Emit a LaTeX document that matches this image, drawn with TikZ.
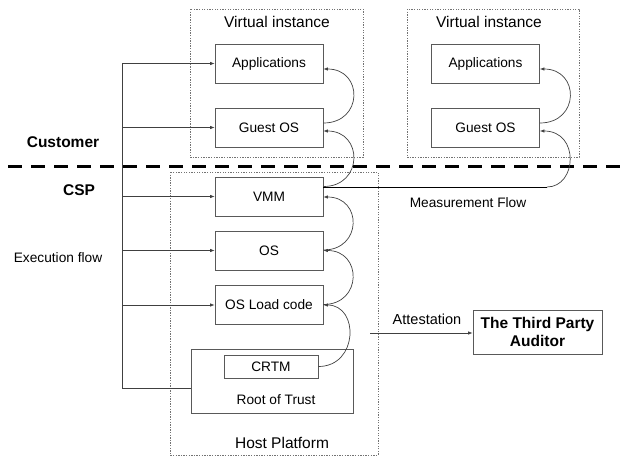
\documentclass[tikz,border=0pt]{standalone}
\usepackage{fontspec}
\setmainfont{Liberation Sans}
\usetikzlibrary{arrows.meta}
\tikzset{
  box/.style={draw=black!65, line width=0.8pt, minimum width=108pt, minimum height=39pt, inner sep=0pt, font=\fontsize{13.7}{16}\selectfont},
  container/.style={draw=black!55, line width=0.7pt, dash pattern=on 1.3pt off 1.3pt},
  arr/.style={draw=black!75, line width=0.7pt, -{Latex[length=4.5pt,width=3.5pt]}},
  plain/.style={draw=black!75, line width=0.7pt},
  lbl/.style={font=\fontsize{13.7}{16}\selectfont, inner sep=0pt},
  biglbl/.style={font=\fontsize{15.5}{18}\selectfont, inner sep=0pt},
  boldlbl/.style={font=\fontsize{15.5}{18}\selectfont\bfseries, inner sep=0pt},
}
\begin{document}
\begin{tikzpicture}[x=1pt,y=-1pt]
\useasboundingbox (0,0) rectangle (621,458);
% containers
\draw[container] (190,9) rectangle (363,157);
\draw[container] (407,9) rectangle (579,157);
\draw[container] (170,172) rectangle (378,455);
\node[biglbl] (vi1) at (277,22) {Virtual instance};
\node[biglbl] (vi2) at (489,22) {Virtual instance};
\node[biglbl] (hp) at (282,443) {Host Platform};
% boxes
\node[box] (a1) at (269,63.5) {Applications};
\node[box] (g1) at (269,127.5) {Guest OS};
\node[box] (a2) at (485.5,63.5) {Applications};
\node[box] (g2) at (485.5,127.5) {Guest OS};
\node[box] (vmm) at (269,196.5) {VMM};
\node[box] (os) at (269,250.5) {OS};
\node[box] (osl) at (269,305) {OS Load code};
\node[box, minimum width=162pt, minimum height=64pt] (rot) at (272,381) {};
\node[lbl] (rott) at (276,400) {Root of Trust};
\node[box, minimum width=94pt, minimum height=23pt] (crtm) at (271,366.5) {CRTM};
\node[box, minimum width=129pt, minimum height=44pt, align=center, font=\fontsize{15.5}{18}\selectfont\bfseries] (tpa) at (537.5,332) {The Third Party\\Auditor};
% separator
\draw[line width=2.8pt, dash pattern=on 14pt off 9pt] (8,166.5) -- (621,166.5);
% side labels
\node[boldlbl] (cust) at (63,142) {Customer};
\node[boldlbl] (csp) at (79,190) {CSP};
\node[lbl] (ex) at (58,258) {Execution flow};
\node[lbl] (mf) at (468,203) {Measurement Flow};
\node[font=\fontsize{14.5}{17}\selectfont, inner sep=0pt] (att) at (427,319) {Attestation};
% execution flow lines
\coordinate (ext) at (122,63.5);
\coordinate (exb) at (122,388);
\draw[plain] (ext) -- (exb);
\draw[arr] (ext) -- (a1.west);
\draw[arr] (ext |- g1.west) -- (g1.west);
\draw[arr] (ext |- vmm.west) -- (vmm.west);
\draw[arr] (ext |- os.west) -- (os.west);
\draw[arr] (ext |- osl.west) -- (osl.west);
\draw[plain] (exb) -- (exb -| rot.west);
% measurement curves
\draw[arr] ([yshift=4.5pt]g1.east) .. controls +(40,0) and +(40,0) .. ([yshift=-5.5pt]a1.east);
\draw[arr] ([yshift=4.5pt]g2.east) .. controls +(40,0) and +(40,0) .. ([yshift=-5.5pt]a2.east);
\draw[arr] ([yshift=10pt]vmm.east) .. controls +(40,0) and +(40,0) .. ([yshift=-3.5pt]g1.east);
\coordinate (mfe) at (547,187);
\draw[draw=black, line width=1pt] ([yshift=9.5pt]vmm.east) -- (mfe);
\draw[arr] (mfe) .. controls +(30,0) and +(40,0) .. ([yshift=-3.5pt]g2.east);
\draw[arr] ([yshift=0.5pt]os.east) .. controls +(39,0) and +(39,0) .. ([yshift=-0.5pt]vmm.east);
\draw[arr] ([yshift=0.5pt]osl.east) .. controls +(39,0) and +(39,0) .. ([yshift=0pt]os.east);
\draw[arr] (crtm.east) .. controls +(40,0) and +(36,0) .. ([yshift=0pt]osl.east);
% attestation
\coordinate (atts) at (370,333);
\draw[arr] (atts) -- (atts -| tpa.west);
\end{tikzpicture}
\end{document}
